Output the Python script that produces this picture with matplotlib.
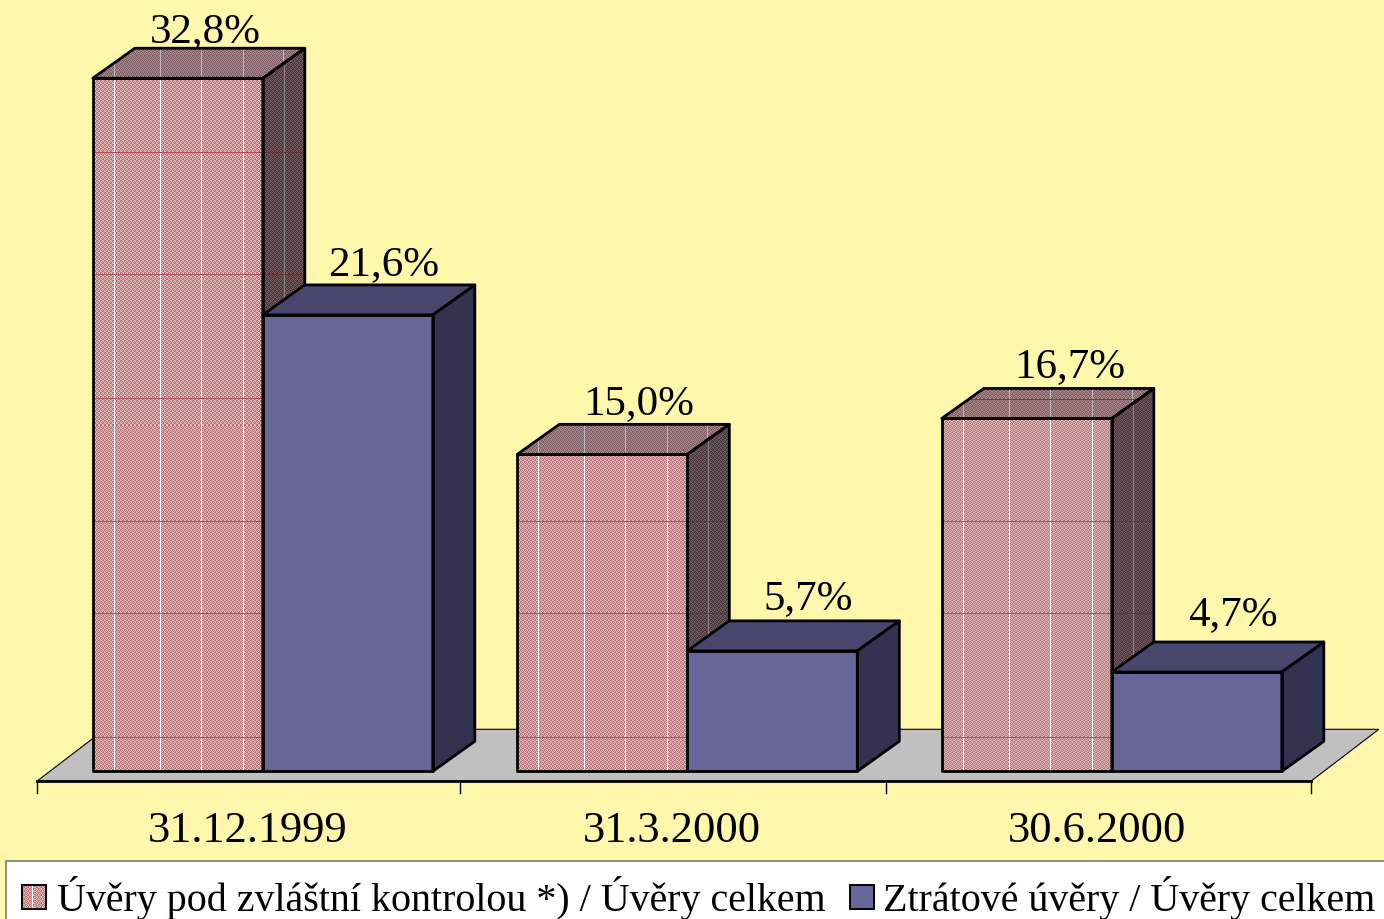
import numpy as np
import matplotlib
matplotlib.use('Agg')
import matplotlib.pyplot as plt
from matplotlib.patches import Polygon, Rectangle

# values
categories = ['31.12.1999', '31.3.2000', '30.6.2000']
special_loans = [32.8, 15.0, 16.7]
loss_loans = [21.6, 5.7, 4.7]
value_labels_a = ['32,8%', '15,0%', '16,7%']
value_labels_b = ['21,6%', '5,7%', '4,7%']
series_names = ['Úvěry pod zvláštní kontrolou *) / Úvěry celkem',
                'Ztrátové úvěry / Úvěry celkem']

# label nudges in pixels, the original labels are not quite regular
label_dx_a = [113, 121, 128]
label_dy_a = [47, 52, 53]
label_dx_b = [121, 121, 121]
label_dy_b = [51, 53, 58]

BG = '#FFF7AB'
PINK_LIGHT = (0.88, 0.72, 0.72)
PINK_DARK = (0.71, 0.46, 0.48)
W, H = 1384, 920
X_PX = 424.5     # pixels per category
Y_PX = 21.13     # pixels per percent
BAR_W = 170 / X_PX
DX = 42 / X_PX   # depth of the boxes
DY = 30 / Y_PX

plt.rcParams['font.family'] = ['Liberation Serif', 'DejaVu Serif']

fig = plt.figure(figsize=(W / 100, H / 100), dpi=100, facecolor=BG)
ax = fig.add_axes([0, 0, 1, 1])
ax.axis('off')


def px(x):
    return x / X_PX


def py(y):
    return (771 - y) / Y_PX


def dither(rows, cols, light, dark):
    tile = np.array([[0, 1, 0, 1], [1, 0, 1, 0], [0, 1, 1, 0], [1, 0, 0, 1]])
    mask = np.tile(tile, (rows // 4 + 1, cols // 4 + 1))[:rows, :cols]
    img = np.zeros((rows, cols, 3))
    img[mask == 0] = light
    img[mask == 1] = dark
    return img


def textured_poly(points, x0, x1, y0, y1, light, dark, white, red, z):
    # dither + pale columns + red rows, clipped to the face of the box
    rows, cols = int(round((y1 - y0) * Y_PX)), int(round((x1 - x0) * X_PX))
    img = dither(rows, cols, light, dark)
    for off in [21, 67, 108, 150, 190]:
        if off < cols:
            img[:, off] = white
    for yy in [33, 157, 249, 371, 495, 617, 722]:
        r = rows - 1 - int(round(yy - y0 * Y_PX))
        if 0 <= r < rows:
            img[r] = red
    im = ax.imshow(img, extent=(x0, x1, y0, y1), aspect='auto', interpolation='nearest', zorder=z)
    clip = Polygon(points, transform=ax.transData, fc='none', ec='none')
    ax.add_patch(clip)
    im.set_clip_path(clip)


def box(x, h, z, front=None, top=None, side=None):
    x0, x1 = x, x + BAR_W
    lw = 2.0
    pts_front = [(x0, 0), (x1, 0), (x1, h), (x0, h)]
    pts_top = [(x0, h), (x1, h), (x1 + DX, h + DY), (x0 + DX, h + DY)]
    pts_side = [(x1, 0), (x1 + DX, DY), (x1 + DX, h + DY), (x1, h)]
    if front is None:
        textured_poly(pts_front, x0, x1, 0, h, PINK_LIGHT, PINK_DARK, (1, 1, 1), (0.68, 0.30, 0.34), z)
        textured_poly(pts_top, x0, x1 + DX, h, h + DY, (0.66, 0.52, 0.53), (0.50, 0.38, 0.40), (0.72, 0.72, 0.74), (0.46, 0.25, 0.28), z)
        textured_poly(pts_side, x1, x1 + DX, 0, h + DY, (0.44, 0.35, 0.36), (0.29, 0.22, 0.24), (0.56, 0.52, 0.52), (0.42, 0.20, 0.22), z)
    else:
        ax.add_patch(Polygon(pts_front, fc=front, ec='none', zorder=z))
        ax.add_patch(Polygon(pts_top, fc=top, ec='none', zorder=z))
        ax.add_patch(Polygon(pts_side, fc=side, ec='none', zorder=z))
    for pts in (pts_top, pts_side, pts_front):
        ax.add_patch(Polygon(pts, fc='none', ec='black', lw=lw, joinstyle='round', zorder=z + 0.5))


# floor
ax.add_patch(Polygon([(px(37 - 263), py(781)), (px(105 - 263), py(729)),
                      (px(1379 - 263), py(729)), (px(1311 - 263), py(781))],
                     fc='#C0C0C0', ec='black', lw=0.8, zorder=1))
ax.plot([px(37 - 263), px(1311 - 263)], [py(781), py(781)], color='black', lw=2.0, zorder=1.5)
for t in [37, 460, 886, 1311]:
    ax.plot([px(t - 263)] * 2, [py(781), py(793)], color='black', lw=1.0, zorder=1.5)

for i in range(len(categories)):
    box(i - BAR_W, special_loans[i], 2 + 2 * i)
    box(i, loss_loans[i], 3 + 2 * i, '#666699', '#47476E', '#33334F')
    ax.text(i - BAR_W + px(label_dx_a[i]), special_loans[i] + label_dy_a[i] / Y_PX, value_labels_a[i],
            ha='center', va='center', fontsize=31, zorder=10)
    ax.text(i + px(label_dx_b[i]), loss_loans[i] + label_dy_b[i] / Y_PX, value_labels_b[i],
            ha='center', va='center', fontsize=31, zorder=10)
    ax.text(i - px(15), py(829.5), categories[i], ha='center', va='center', fontsize=32, zorder=10)

# legend box along the bottom edge
ax.add_patch(Rectangle((px(6 - 263), py(925)), px(1400), (925 - 861) / Y_PX,
                       fc='white', ec='#777777', lw=1.2, zorder=11))
swatch = dither(24, 24, PINK_LIGHT, PINK_DARK)
swatch[:, 10] = 1.0
ax.imshow(swatch, extent=(px(22 - 263), px(46 - 263), py(909), py(885)),
          aspect='auto', interpolation='nearest', zorder=12)
ax.add_patch(Rectangle((px(22 - 263), py(909)), px(24), 24 / Y_PX, fc='none', ec='black', lw=1.4, zorder=13))
ax.add_patch(Rectangle((px(850 - 263), py(909)), px(24), 24 / Y_PX, fc='#666699', ec='black', lw=1.4, zorder=13))
ax.text(px(57 - 263), py(897), series_names[0], ha='left', va='center', fontsize=28.8, zorder=13)
ax.text(px(883 - 263), py(897), series_names[1], ha='left', va='center', fontsize=28.8, zorder=13)

# small shift so the box edges land where the original ones do
ax.set_xlim(px(-262.8), px(W - 262.8))
ax.set_ylim(py(H - 1.3), py(-1.3))

fig.savefig('out.png', dpi=100, facecolor=BG)
